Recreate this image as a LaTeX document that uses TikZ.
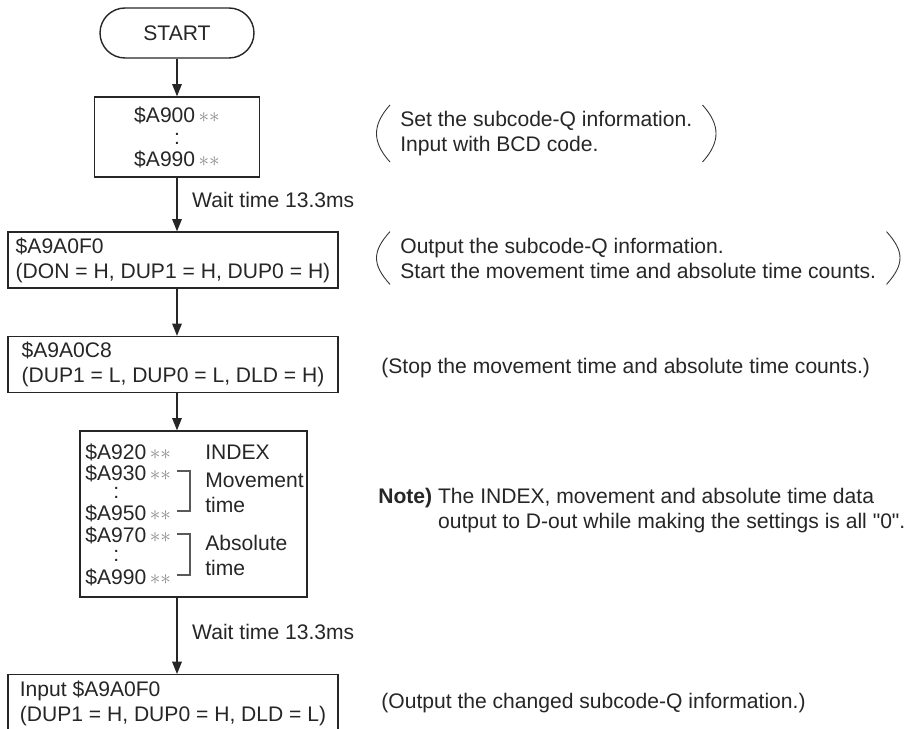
\documentclass[tikz,border=0pt]{standalone}
\usepackage{fontspec}
\setmainfont{Liberation Sans}
\usetikzlibrary{arrows.meta,positioning}
\newcommand{\gst}{\,{\color{black!45}$\ast\ast$}}

\begin{document}
\begin{tikzpicture}[
  x=0.02cm,y=-0.02cm,
  font=\fontsize{12}{14.2}\selectfont,
  every node/.style={text=black!85},
  box/.style={draw=black!85,line width=0.8pt,inner sep=0pt},
  stepbox/.style={box,minimum width=6.6cm,minimum height=1.12cm,align=left},
  term/.style={draw=black!85,line width=0.8pt,rounded corners=0.5cm,minimum width=3.08cm,minimum height=1cm},
  arrow/.style={-{Triangle[width=5.5pt,length=7pt]},line width=0.6pt,draw=black!85},
  paren/.style={line width=0.5pt,draw=black!80},
  bracket/.style={line width=0.6pt,draw=black!65},
  note/.style={anchor=west,align=left,inner xsep=0.2cm},
  cell/.style={anchor=west,inner sep=0pt},
]
  \useasboundingbox (0,0) rectangle (915,729);
  \clip (0,0) rectangle (915,729);

  % flow
  \node[term] (start) at (177,33) {START};
  \node[box,minimum width=3.3cm,minimum height=1.6cm,align=center,font=\fontsize{12}{12.5}\selectfont]
    (setq) at (177,137) {\$A900\gst\\:\\\$A990\gst};
  \node[stepbox] (outq) at (173,260) {\$A9A0F0\\(DON = H, DUP1 = H, DUP0 = H)};
  \node[stepbox] (stopc) at (173,364.5) {\$A9A0C8\\(DUP1 = L, DUP0 = L, DLD = H)};
  \node[box,minimum width=4.54cm,minimum height=3.32cm] (tbox) at (193.5,514) {};
  \node[stepbox,anchor=north,minimum height=1.14cm] (inq) at (173,674) {Input \$A9A0F0\\(DUP1 = H, DUP0 = H, DLD = L)};

  % inside the time box
  \node[cell] (a920) at (85,452) {\$A920\gst};
  \node[cell] (a930) at (85,473) {\$A930\gst};
  \node[cell] (dot1) at (113,493) {:};
  \node[cell] (a950) at (85,513) {\$A950\gst};
  \node[cell] (a970) at (85,535) {\$A970\gst};
  \node[cell] (dot2) at (113,556) {:};
  \node[cell] (a990) at (85,577) {\$A990\gst};
  \node[cell] (idx) at (205,452) {INDEX};
  \node[cell,align=left] (mov) at (205,493) {Movement\\time};
  \node[cell,align=left] (absl) at (205,555) {Absolute\\time};
  \draw[bracket] (177,471) -| (190,511) -- (177,511);
  \draw[bracket] (177,534) -| (190,575) -- (177,575);

  \node[anchor=west] (wait1) at (186,200) {Wait time 13.3ms};
  \node[anchor=west] (wait2) at (186,632) {Wait time 13.3ms};

  \draw[arrow] (start) -- (setq);
  \draw[arrow] (setq) -- (setq.south |- outq.north);
  \draw[arrow] (outq.south -| start.south) -- (stopc.north -| start.south);
  \draw[arrow] (stopc.south -| start.south) -- (tbox.north -| start.south);
  \draw[arrow] (tbox.south -| start.south) -- (inq.north -| start.south);

  % comments on the right
  \node[note] (n1) at (390,133.5) {Set the subcode-Q information.\\Input with BCD code.};
  \node[note] (n2) at (390,258) {Output the subcode-Q information.\\Start the movement time and absolute time counts.};
  \node[note] (n3) at (371,368) {(Stop the movement time and absolute time counts.)};
  \node[note] (n4) at (368,511) {\textbf{Note)} The INDEX, movement and absolute time data\\\hphantom{\textbf{Note)} }output to D-out while making the settings is all \textquotedbl 0\textquotedbl.};
  \node[note] (n5) at (371,703) {(Output the changed subcode-Q information.)};

  \draw[paren] (n1.north west) .. controls ([shift={(-18,20)}]n1.north west) and ([shift={(-18,-20)}]n1.south west) .. (n1.south west);
  \draw[paren] (n1.north east) .. controls ([shift={(18,20)}]n1.north east) and ([shift={(18,-20)}]n1.south east) .. (n1.south east);
  \draw[paren] (n2.north west) .. controls ([shift={(-18,20)}]n2.north west) and ([shift={(-18,-20)}]n2.south west) .. (n2.south west);
  \draw[paren] (n2.north east) .. controls ([shift={(18,20)}]n2.north east) and ([shift={(18,-20)}]n2.south east) .. (n2.south east);
\end{tikzpicture}
\end{document}
